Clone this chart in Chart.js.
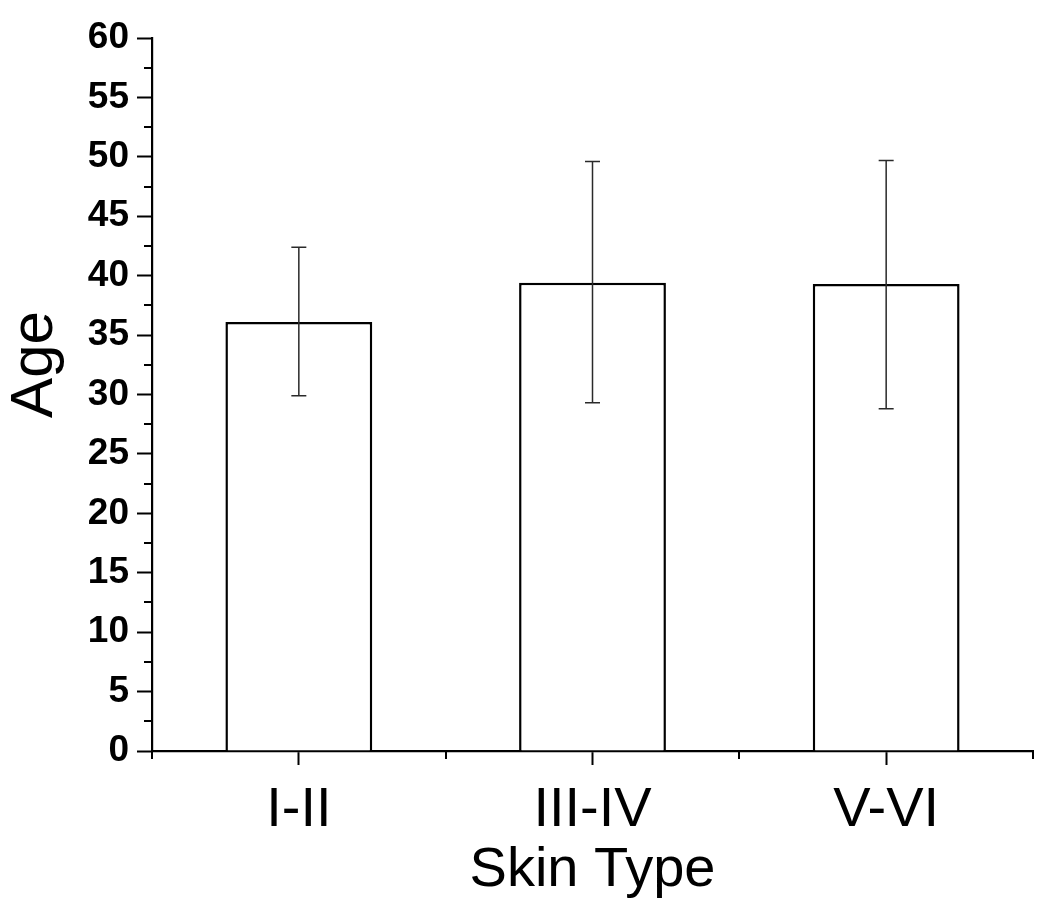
<!DOCTYPE html>
<html>
<head>
<meta charset="utf-8">
<title>Age by Skin Type</title>
<script src="https://cdn.jsdelivr.net/npm/chart.js@4/dist/chart.umd.min.js"></script>
<style>
  body { margin: 0; background: #fff; }
</style>
</head>
<body>
<canvas id="ageChart" width="1050" height="913"></canvas>
<script>
// data
const skinTypes = ["I-II", "III-IV", "V-VI"];
const meanAge = [36.1, 39.4, 39.3];
const errHigh = [42.4, 49.6, 49.7];
const errLow = [29.9, 29.3, 28.8];
const yTicks = [0, 5, 10, 15, 20, 25, 30, 35, 40, 45, 50, 55, 60];

const font = "'Liberation Sans', Arial, Helvetica, sans-serif";

// error bars with small caps
const errorBars = {
  id: "errorBars",
  afterDatasetsDraw(chart) {
    const ctx = chart.ctx;
    const y = chart.scales.y;
    const bars = chart.getDatasetMeta(0).data;
    ctx.save();
    ctx.strokeStyle = "#2a2a2a";
    ctx.lineWidth = 1.5;
    bars.forEach((bar, i) => {
      const top = y.getPixelForValue(errHigh[i]);
      const bottom = y.getPixelForValue(errLow[i]);
      ctx.beginPath();
      ctx.moveTo(bar.x, top);
      ctx.lineTo(bar.x, bottom);
      ctx.moveTo(bar.x - 7.5, top);
      ctx.lineTo(bar.x + 7.5, top);
      ctx.moveTo(bar.x - 7.5, bottom);
      ctx.lineTo(bar.x + 7.5, bottom);
      ctx.stroke();
    });
    ctx.restore();
  }
};

// short ticks: halfway on y, category edges on x
const minorTicks = {
  id: "minorTicks",
  afterDraw(chart) {
    const ctx = chart.ctx;
    const x = chart.scales.x;
    const y = chart.scales.y;
    ctx.save();
    ctx.strokeStyle = "#000";
    ctx.lineWidth = 2;
    ctx.beginPath();
    for (let i = 0; i < yTicks.length - 1; i++) {
      const py = Math.round(y.getPixelForValue((yTicks[i] + yTicks[i + 1]) / 2));
      ctx.moveTo(x.left - 8, py);
      ctx.lineTo(x.left, py);
    }
    for (let i = 0; i <= skinTypes.length; i++) {
      const px = Math.round(x.getPixelForValue(i - 0.5));
      ctx.moveTo(px, y.bottom);
      ctx.lineTo(px, y.bottom + 8);
    }
    ctx.stroke();
    ctx.restore();
  }
};

new Chart(document.getElementById("ageChart"), {
  type: "bar",
  data: {
    labels: skinTypes,
    datasets: [{
      label: "Age",
      data: meanAge,
      backgroundColor: "#fff",
      borderColor: "#000",
      borderWidth: 2.5,
      barPercentage: 0.5,
      categoryPercentage: 1.0
    }]
  },
  options: {
    responsive: false,
    animation: false,
    layout: { padding: { top: 38, right: 17, left: 0, bottom: 0 } },
    plugins: {
      legend: { display: false },
      tooltip: { enabled: false }
    },
    scales: {
      x: {
        afterFit: (scale) => { scale.height = 162; },
        grid: {
          offset: false,
          drawOnChartArea: false,
          tickLength: 14,
          tickWidth: 2,
          tickColor: "#000"
        },
        border: { color: "#000", width: 2.2 },
        ticks: {
          color: "#000",
          padding: 12,
          maxRotation: 0,
          font: { family: font, size: 56 }
        },
        title: {
          display: true,
          text: "Skin Type",
          color: "#000",
          padding: { top: 0, bottom: 9 },
          font: { family: font, size: 56 }
        }
      },
      y: {
        min: 0,
        max: 60,
        afterFit: (scale) => { scale.width = 152; },
        grid: {
          drawOnChartArea: false,
          tickLength: 15,
          tickWidth: 2,
          tickColor: "#000"
        },
        border: { color: "#000", width: 2.2 },
        ticks: {
          stepSize: 5,
          color: "#000",
          padding: 8,
          font: { family: font, size: 37, weight: "bold" }
        },
        title: {
          display: true,
          // en spaces nudge the rotated title up like the original
          text: "\u2002\u2002Age",
          color: "#000",
          padding: { top: -1, bottom: 0 },
          font: { family: font, size: 60 }
        }
      }
    }
  },
  plugins: [errorBars, minorTicks]
});
</script>
</body>
</html>
